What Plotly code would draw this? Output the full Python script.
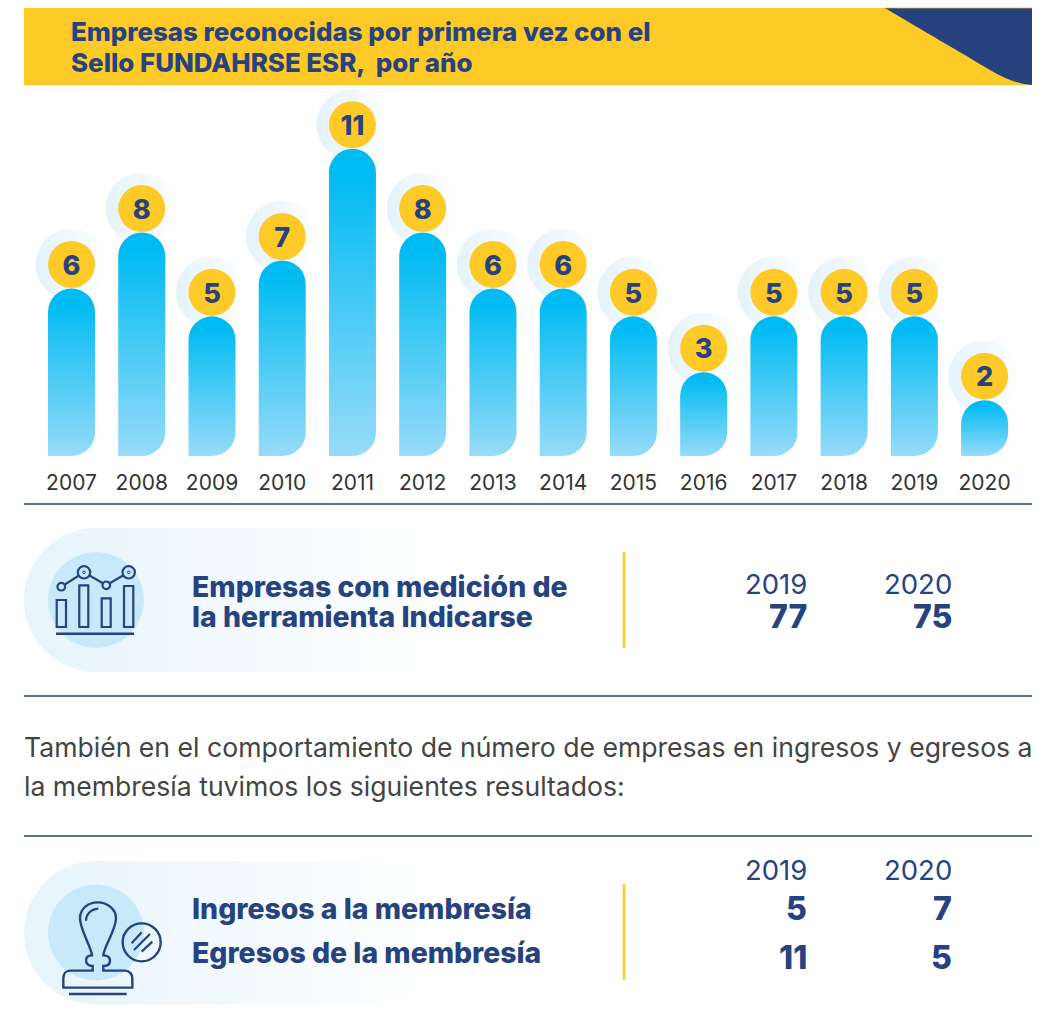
import plotly.graph_objects as go

W, H = 1045, 1025
NAVY = "#26437f"
YELLOW = "#ffca28"
FONT = "Inter"

# ---------- data ----------
years = [2007, 2008, 2009, 2010, 2011, 2012, 2013, 2014, 2015, 2016, 2017, 2018, 2019, 2020]
empresas = [6, 8, 5, 7, 11, 8, 6, 6, 5, 3, 5, 5, 5, 2]
title_lines = ["Empresas reconocidas por primera vez con el", "Sello FUNDAHRSE ESR,  por año"]
heading_lines = ["Empresas con medición de", "la herramienta Indicarse"]
col_years = ["2019", "2020"]
indicarse = [77, 75]
paragraph = ["También en el comportamiento de número de empresas en ingresos y egresos a",
             "la membresía tuvimos los siguientes resultados:"]
member_labels = ["Ingresos a la membresía", "Egresos de la membresía"]
ingresos = [5, 7]
egresos = [11, 5]

# ---------- scales: figure pixels -> paper ----------
def px(x): return x / W
def py(y): return 1 - y / H
def path(s):
    out = []
    for seg in s:
        c, v = seg[0], seg[1:]
        coords = " ".join(f"{px(v[i]):.5f},{py(v[i+1]):.5f}" for i in range(0, len(v), 2))
        out.append(f"{c} {coords}")
    return " ".join(out)

shapes = []
def rect(x0, y0, x1, y1, fill=None, line=None, lw=0, layer="below"):
    shapes.append(dict(type="rect", xref="paper", yref="paper", x0=px(x0), x1=px(x1), y0=py(y0), y1=py(y1),
                       fillcolor=fill or "rgba(0,0,0,0)", line=dict(color=line or "rgba(0,0,0,0)", width=lw), layer=layer))
def circ(cx, cy, r, fill=None, line=None, lw=0):
    shapes.append(dict(type="circle", xref="paper", yref="paper", x0=px(cx-r), x1=px(cx+r), y0=py(cy-r), y1=py(cy+r),
                       fillcolor=fill or "rgba(0,0,0,0)", line=dict(color=line or "rgba(0,0,0,0)", width=lw), layer="below"))
def pth(segs, fill=None, line=None, lw=0):
    shapes.append(dict(type="path", xref="paper", yref="paper", path=path(segs),
                       fillcolor=fill or "rgba(0,0,0,0)", line=dict(color=line or "rgba(0,0,0,0)", width=lw), layer="below"))
def hline(y, x0=24, x1=1032, color=NAVY, lw=1.6):
    pth([("M", x0, y), ("L", x1, y)], line=color, lw=lw)
def vline(x, y0, y1, color=YELLOW, lw=2.6):
    pth([("M", x, y0), ("L", x, y1)], line=color, lw=lw)

# banner
rect(24, 8, 1032, 85, fill=YELLOW)
pth([("M", 885, 8), ("L", 1032, 8), ("L", 1032, 85), ("C", 1015, 84, 1000, 76, 985, 67), ("C", 960, 52, 925, 32, 885, 8), ("Z",)], fill=NAVY)
hline(8.3, 885, 1032, color="#7d7558", lw=1)

# separators
for y in (504, 696, 836):
    hline(y)
vline(624, 552, 648)
vline(624, 884, 980)

# pills (gradient applied in post_script, selected by index)
def pill(y0, y1):
    r = (y1 - y0) / 2
    k = r * 0.5523
    pth([("M", 24 + r, y0), ("L", 440, y0), ("L", 440, y1), ("L", 24 + r, y1),
         ("C", 24 + r - k, y1, 24, y1 - r + k, 24, y0 + r),
         ("C", 24, y0 + r - k, 24 + r - k, y0, 24 + r, y0), ("Z",)], fill="#e6f4fc")
pill_idx = [len(shapes)]
pill(528, 672)
pill_idx.append(len(shapes))
pill(861, 1004.5)

# chart icon
circ(96, 600, 48, fill="#c8e9fa")
for x0, y0, x1, y1 in [(56.7, 600, 66, 627), (79.3, 585.3, 88.3, 627), (101.7, 598.3, 110.7, 627), (124, 586, 133.3, 627)]:
    rect(x0, y0, x1, y1, line=NAVY, lw=2.2)
pth([("M", 56, 633.8), ("L", 134, 633.8)], line=NAVY, lw=2.6)
pth([("M", 61.3, 586.7), ("L", 84, 572.3), ("L", 106.3, 585.3), ("L", 128.7, 572.3)], line=NAVY, lw=2.2)
for cx, cy, r in [(61.3, 586.7, 3.8), (84, 572.3, 6.2), (106.3, 585.3, 3.8), (128.7, 572.3, 6.2)]:
    circ(cx, cy, r, fill="#c8e9fa", line=NAVY, lw=2.2)
for cx, cy in [(84, 572.3), (128.7, 572.3)]:
    circ(cx, cy, 1.3, line=NAVY, lw=1)

# stamp icon
def Z(*v):
    return [v[i] / 3 + (20 if i % 2 == 0 else 850) for i in range(len(v))]
def seg(c, *v):
    return (c, *Z(*v))
circ(96, 932.5, 48, fill="#c8e9fa")
pth([seg("M", 218, 348), seg("C", 205, 348, 198, 340, 198, 331), seg("C", 198, 322, 205, 316, 216, 316),
     seg("C", 214, 290, 180, 240, 180, 205), seg("C", 180, 175, 205, 157, 233, 157),
     seg("C", 262, 157, 288, 178, 288, 205), seg("C", 288, 240, 252, 290, 250, 316),
     seg("C", 262, 316, 270, 322, 270, 332), seg("C", 270, 342, 262, 348, 250, 348),
     seg("L", 250, 362), seg("L", 315, 362), seg("C", 328, 362, 337, 372, 337, 385), seg("L", 337, 413),
     seg("L", 130, 413), seg("L", 130, 385), seg("C", 130, 372, 138, 362, 150, 362), seg("L", 218, 362), ("Z",)],
    line=NAVY, lw=2.4)
pth([seg("M", 198, 212), seg("C", 198, 195, 210, 178, 235, 176)], line=NAVY, lw=2.2)
pth([seg("M", 147, 432), seg("L", 320, 432)], line=NAVY, lw=2.6)
circ(20 + 365 / 3, 850 + 277 / 3, 19, line=NAVY, lw=2.4)
for a in [(335, 280, 365, 247), (342, 300, 390, 252), (365, 305, 397, 275)]:
    pth([seg("M", a[0], a[1]), seg("L", a[2], a[3])], line=NAVY, lw=2.2)

# ---------- text ----------
anns = []
def text(s, x, y, size, color=NAVY, bold=False, anchor="left"):
    anns.append(dict(text=s, x=px(x), y=py(y), xref="paper", yref="paper",
                     xanchor=anchor, yanchor="middle", showarrow=False,
                     font=dict(family=FONT, size=size, color=color, weight=800 if bold else 400),
                     borderpad=0, borderwidth=0))

for s, y in zip(title_lines, (31, 62)):
    text(s, 71, y, 25.9, bold=True)
for s, y in zip(heading_lines, (586, 616)):
    text(s, 192, y, 28.4, bold=True)
for s, x, v in zip(col_years, (807, 952), indicarse):
    text(s, x, 584, 27.5, anchor="right")
    text(str(v), x, 616, 32, bold=True, anchor="right")
for s, y in zip(paragraph, (747, 786)):
    text(s, 24, y, 26.6, color="#444444")
for s, y in zip(member_labels, (908, 952)):
    text(s, 192, y, 28.4, bold=True)
for s, x, a, b in zip(col_years, (807, 952), ingresos, egresos):
    text(s, x, 870, 27.5, anchor="right")
    text(str(a), x, 908, 32, bold=True, anchor="right")
    text(str(b), x, 957, 32, bold=True, anchor="right")

# ---------- chart ----------
X_STEP = 70.24
Y_UNIT = 27.93
BASE = 456
xr = [years[0] - 71.5 / X_STEP, years[0] + (W - 71.5) / X_STEP]
yr = [0, BASE / Y_UNIT]
label_offset = 24 / Y_UNIT
label_y = [v + label_offset for v in empresas]
text_y = [v + label_offset - 3.5 / Y_UNIT for v in empresas]

fig = go.Figure()
fig.add_trace(go.Scatter(x=years, y=label_y, mode="markers", xaxis="x", yaxis="y", hoverinfo="skip",
                         marker=dict(size=72, color="#e4f2fb", line=dict(width=0),
                                     gradient=dict(type="horizontal", color="#ffffff")), cliponaxis=False))
fig.add_trace(go.Bar(x=years, y=empresas, xaxis="x2", yaxis="y2", width=47 / X_STEP, hoverinfo="skip",
                     marker=dict(color="#00bbf2", line=dict(width=0)), cliponaxis=False))
fig.add_trace(go.Scatter(x=years, y=label_y, mode="markers", xaxis="x2", yaxis="y2", hoverinfo="skip",
                         marker=dict(size=47, color=YELLOW, line=dict(width=0)), cliponaxis=False))
fig.add_trace(go.Scatter(x=years, y=text_y, mode="text", xaxis="x2", yaxis="y2", hoverinfo="skip",
                         text=[str(v) for v in empresas], textposition="middle center",
                         textfont=dict(family=FONT, size=27, color=NAVY, weight=800), cliponaxis=False))

dom_bottom = (H - BASE) / H
fig.update_layout(
    width=W, height=H, margin=dict(l=0, r=0, t=0, b=0), showlegend=False, barmode="overlay",
    paper_bgcolor="white", plot_bgcolor="rgba(0,0,0,0)", shapes=shapes, annotations=anns,
    xaxis=dict(range=xr, tickmode="array", tickvals=years, ticktext=[str(y) for y in years], showgrid=False, zeroline=False,
               showline=False, ticks="outside", ticklen=8, tickcolor="rgba(0,0,0,0)",
               tickfont=dict(family=FONT, size=21, color="#333333"), fixedrange=True),
    yaxis=dict(range=yr, domain=[dom_bottom, 1], visible=False, fixedrange=True),
    xaxis2=dict(range=xr, overlaying="x", visible=False, fixedrange=True),
    yaxis2=dict(range=yr, domain=[dom_bottom, 1], overlaying="y", visible=False, fixedrange=True),
)

post = """
document.body.style.margin = '0';
document.documentElement.style.overflow = 'hidden';
var gd = document.getElementById('{plot_id}');
var svg = gd.querySelector('.main-svg');
var NS = 'http://www.w3.org/2000/svg';
function grad(id, x2, y2, stops) {
  var g = document.createElementNS(NS, 'linearGradient');
  g.setAttribute('id', id); g.setAttribute('x1', '0'); g.setAttribute('y1', '0');
  g.setAttribute('x2', x2); g.setAttribute('y2', y2);
  stops.forEach(function (s) {
    var st = document.createElementNS(NS, 'stop');
    st.setAttribute('offset', s[0]); st.setAttribute('stop-color', s[1]);
    g.appendChild(st);
  });
  var d = document.createElementNS(NS, 'defs'); d.appendChild(g); svg.insertBefore(d, svg.firstChild);
}
grad('barGrad', '0', '1', [[0.08, '#00bbf2'], [1, '#97dbf9']]);
grad('pillGrad', '1', '0', [[0, '#e6f4fc'], [1, '#ffffff']]);
PILLS.forEach(function (i) {
  var p = gd.querySelector('.shapelayer path[data-index="' + i + '"]');
  if (p) p.style.fill = 'url(#pillGrad)';
});
gd.querySelectorAll('.barlayer .point path').forEach(function (p) {
  var b = p.getBBox(), r = b.width / 2, x0 = b.x, x1 = b.x + b.width, y0 = b.y, y1 = b.y + b.height;
  p.setAttribute('d', 'M' + x0 + ',' + y1 + 'L' + x0 + ',' + (y0 + r) +
    'A' + r + ',' + r + ' 0 0 1 ' + x1 + ',' + (y0 + r) +
    'L' + x1 + ',' + (y1 - r) + 'A' + r + ',' + r + ' 0 0 1 ' + (x1 - r) + ',' + y1 + 'Z');
  p.style.fill = 'url(#barGrad)';
});
""".replace("PILLS", str(pill_idx))

fig.write_html("out.html", config=dict(displayModeBar=False, staticPlot=True), post_script=post)
